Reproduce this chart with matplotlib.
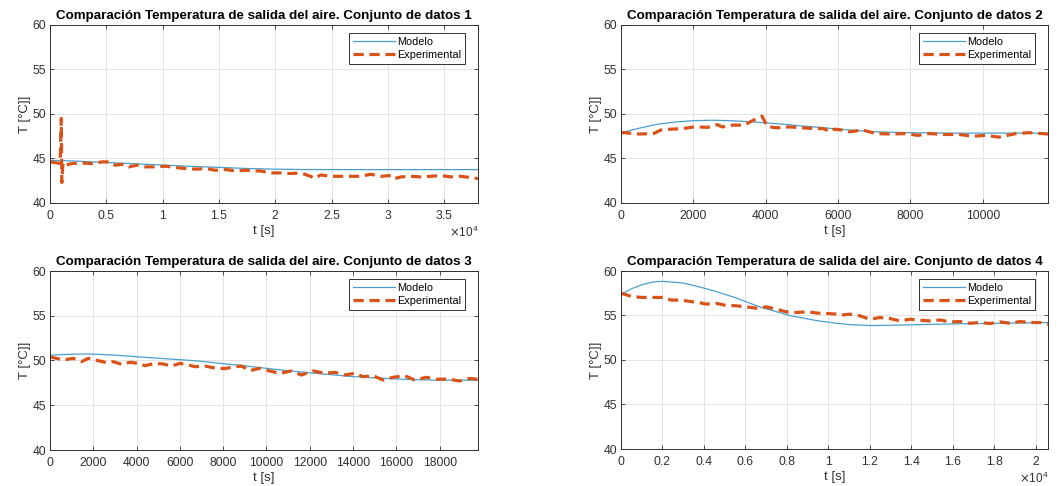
import numpy as np
import matplotlib
matplotlib.use("Agg")
import matplotlib.pyplot as plt
from matplotlib.ticker import FuncFormatter

plt.rcParams['font.family'] = ['Liberation Sans', 'DejaVu Sans']

# conjunto 1
t1m = [0, 2000, 5000, 8000, 10000, 12500, 15000, 17500, 20000, 22500, 25000, 30000, 38000]
T1m = [44.8, 44.72, 44.55, 44.38, 44.27, 44.12, 44.0, 43.88, 43.8, 43.76, 43.75, 43.75, 43.75]
t1e = [0, 150, 600, 900, 1000, 1050, 1150, 1335, 1930, 2820,
       3710, 4600, 5340, 5790, 6530, 7000, 7740, 8480, 9370, 10260,
       11150, 12040, 12930, 13820, 14710, 15600, 16490, 17380, 18270, 18690,
       19580, 20470, 21360, 22250, 23140, 23500, 24030, 24920, 25810, 26700,
       27590, 28480, 29370, 30260, 30557, 31150, 32040, 32930, 33820, 34710,
       35600, 36490, 37380, 38000]
T1e = [44.55, 44.6, 44.5, 44.45, 49.5, 42.3, 44.5, 44.25, 44.43, 44.5,
       44.43, 44.62, 44.62, 44.25, 44.36, 44.06, 44.25, 44.06, 44.06, 44.13,
       43.99, 43.87, 43.8, 43.87, 43.68, 43.76, 43.6, 43.68, 43.6, 43.6,
       43.38, 43.38, 43.31, 43.38, 43.0, 42.75, 43.15, 43.0, 43.0, 43.0,
       43.0, 43.23, 43.0, 43.08, 42.74, 42.93, 43.0, 42.93, 43.0, 43.08,
       42.93, 43.0, 42.85, 42.74]

# conjunto 2
t2m = [0, 500, 1000, 1500, 2000, 2500, 3000, 3500, 4000, 4500, 5000, 5500, 6000, 6500, 7000, 8000, 9000, 10000, 11800]
T2m = [47.9, 48.4, 48.85, 49.1, 49.25, 49.3, 49.25, 49.15, 49.0, 48.85, 48.65, 48.5, 48.3, 48.15, 48.0, 47.9, 47.85, 47.85, 47.85]
t2e = [0, 100, 500, 900, 1100, 1390, 1700, 2030, 2400, 2660,
       2800, 3100, 3400, 3660, 3900, 4040, 4300, 4650, 5200, 5600,
       5800, 5900, 6100, 6313, 6680, 7050, 7463, 7876, 8197, 8519,
       8933, 9346, 9713, 10080, 10449, 10908, 11276, 11800]
T2e = [47.9, 47.9, 47.75, 47.8, 48.2, 48.3, 48.35, 48.56, 48.5, 48.8,
       48.55, 48.75, 48.75, 49.3, 49.75, 48.6, 48.45, 48.55, 48.4, 48.35,
       48.0, 48.3, 48.2, 48.0, 48.2, 47.8, 47.75, 47.8, 47.6, 47.8,
       47.7, 47.7, 47.5, 47.6, 47.4, 47.8, 47.9, 47.75]

# conjunto 3
t3m = [0, 1000, 1770, 3000, 4385, 6690, 9000, 9920, 11000, 12770, 14000, 15840, 17000, 18000, 19770]
T3m = [50.6, 50.7, 50.73, 50.6, 50.35, 49.98, 49.4, 49.15, 48.85, 48.46, 48.2, 47.95, 47.85, 47.8, 47.8]
t3e = [0, 77, 615, 1077, 1461, 1770, 2230, 2615, 2923, 3307,
       3692, 4077, 4384, 4846, 5230, 5615, 6000, 6384, 6692, 7153,
       7615, 8077, 8384, 8846, 9230, 9692, 10153, 10615, 11153, 11615,
       12153, 12692, 13153, 13615, 14076, 14461, 14923, 15384, 15846, 16384,
       16845, 17384, 17846, 18384, 18922, 19384, 19770]
T3e = [50.4, 50.36, 50.06, 50.24, 49.87, 50.24, 49.98, 49.76, 49.87, 49.57,
       49.8, 49.68, 49.42, 49.68, 49.61, 49.38, 49.68, 49.5, 49.31, 49.38,
       49.16, 49.09, 49.24, 49.38, 48.86, 49.13, 48.83, 48.57, 48.83, 48.38,
       48.83, 48.57, 48.68, 48.38, 48.57, 48.19, 48.3, 47.82, 48.12, 48.3,
       47.82, 48.12, 47.9, 47.93, 47.71, 48.0, 47.9]

# conjunto 4
t4m = [0, 96, 500, 1000, 1500, 2000, 3000, 3871, 4500, 5478, 6762, 8210, 9493, 10377, 11000, 12000, 13000, 14890, 16000, 18105, 20580]
T4m = [57.44, 57.5, 58.0, 58.45, 58.75, 58.84, 58.65, 58.16, 57.75, 57.03, 55.9, 54.96, 54.4, 54.13, 53.98, 53.87, 53.9, 54.0, 54.05, 54.13, 54.2]
t4e = [0, 16, 498, 980, 1462, 2024, 2425, 2907, 3309, 3710,
       4112, 4594, 5076, 5558, 6039, 6521, 7003, 7485, 7967, 8449,
       9011, 9493, 9975, 10376, 10554, 11036, 11518, 12000, 12481, 12963,
       13445, 13927, 14409, 14891, 15373, 15854, 16336, 16818, 17300, 17782,
       18264, 18745, 19227, 19709, 20191, 20580]
T4e = [57.49, 57.49, 57.15, 57.03, 57.03, 57.03, 56.73, 56.73, 56.58, 56.47,
       56.28, 56.36, 56.13, 56.09, 55.97, 55.82, 55.97, 55.71, 55.41, 55.34,
       55.41, 55.26, 55.22, 55.15, 55.03, 55.15, 54.96, 54.58, 54.77, 54.66,
       54.39, 54.58, 54.47, 54.39, 54.5, 54.28, 54.32, 54.13, 54.21, 54.1,
       54.28, 54.13, 54.32, 54.21, 54.21, 54.02]

xmax = [38000, 11800, 19770, 20580]
xstep = [5000, 2000, 2000, 2000]
sci = [True, False, False, True]

W, H = 1059, 486
fig = plt.figure(figsize=(W / 100, H / 100), dpi=100)
boxes = [(50, 25, 478, 203), (621, 25, 1048, 203), (50, 271, 478, 450), (621, 271, 1048, 449)]

datos = [(t1m, T1m, t1e, T1e), (t2m, T2m, t2e, T2e), (t3m, T3m, t3e, T3e), (t4m, T4m, t4e, T4e)]
dark = '#303030'

for i, (tm, Tm, te, Te) in enumerate(datos):
    x0, y0, x1, y1 = boxes[i]
    ax = fig.add_axes([x0 / W, 1 - y1 / H, (x1 - x0) / W, (y1 - y0) / H])
    ax.plot(tm, Tm, color='#4a9fd0', lw=0.9, label='Modelo')
    ax.plot(te, Te, color='#D95319', lw=2.3, dashes=(3.2, 1.8), label='Experimental')
    ax.set_xlim(0, xmax[i])
    ax.set_ylim(40, 60)
    ax.set_yticks([40, 45, 50, 55, 60])
    ax.set_xticks(np.arange(0, xmax[i], xstep[i]))
    if sci[i]:
        ax.xaxis.set_major_formatter(FuncFormatter(lambda v, p: '%g' % (v / 1e4)))
        ax.text(1.0, -0.125, r'$\times\mathdefault{10^{4}}$', transform=ax.transAxes,
                ha='right', va='top', fontsize=8.5, color=dark)
    ax.grid(True, color='#e3e3e3', lw=0.7)
    ax.set_axisbelow(True)
    ax.tick_params(direction='in', top=True, right=True, length=3, width=0.6,
                   labelsize=8.7, colors=dark)
    ax.tick_params(axis='x', pad=5)
    ax.tick_params(axis='y', pad=3)
    for s in ax.spines.values():
        s.set_color(dark)
        s.set_linewidth(0.7)
    ax.set_xlabel('t [s]', fontsize=9.5, color=dark, labelpad=2)
    ax.set_ylabel('T [°C]]', fontsize=9.5, color=dark, labelpad=1)
    ax.set_title('Comparación Temperatura de salida del aire. Conjunto de datos %d' % (i + 1),
                 fontsize=9.6, fontweight='bold', pad=4)
    leg = ax.legend(loc='upper right', bbox_to_anchor=(0.97, 0.955), borderaxespad=0,
                    fontsize=7.8, handlelength=3.9, handletextpad=0.2, labelspacing=0.3,
                    borderpad=0.35, fancybox=False, framealpha=1)
    leg.get_frame().set_edgecolor(dark)
    leg.get_frame().set_linewidth(0.7)

fig.savefig('out.png', dpi=100)
